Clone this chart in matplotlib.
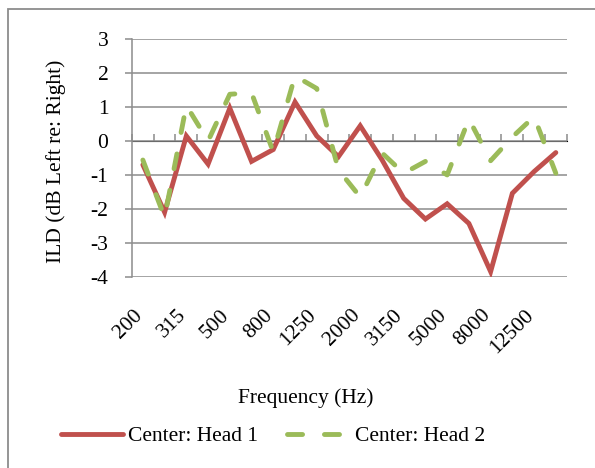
import matplotlib
matplotlib.use('Agg')
import matplotlib.pyplot as plt
from matplotlib.patches import Rectangle

# 1/3-octave band centres (Hz)
freqs = ['200', '250', '315', '400', '500', '630', '800', '1000', '1250', '1600',
         '2000', '2500', '3150', '4000', '5000', '6300', '8000', '10000', '12500', '16000']
head1 = [-0.7, -2.1, 0.15, -0.68, 0.97, -0.6, -0.25, 1.15, 0.15, -0.46,
         0.45, -0.55, -1.69, -2.3, -1.85, -2.43, -3.85, -1.54, -0.9, -0.34]
head2 = [-0.56, -2.25, 1.05, 0.0, 1.38, 1.42, -0.32, 1.92, 1.55, -0.85,
         -1.65, -0.35, -0.95, -0.6, -1.0, 0.65, -0.58, 0.12, 0.72, -0.95]
yticks = [3, 2, 1, 0, -1, -2, -3, -4]

red = '#C0504D'
green = '#9BBB59'
grid_col = '#8C8C8C'

plt.rcParams['font.family'] = ['Liberation Serif', 'DejaVu Serif']
plt.rcParams['font.size'] = 15.5
plt.rcParams['axes.unicode_minus'] = False

fig = plt.figure(figsize=(5.95, 4.68), dpi=100)
ax = fig.add_axes([132 / 595, 1 - 276.7 / 468, (566.7 - 132) / 595, (276.7 - 39.3) / 468])

xs = [i + 0.5 for i in range(len(freqs))]
ax.plot(xs, head1, color=red, lw=3.5, solid_capstyle='round', solid_joinstyle='miter',
        label='Center: Head 1', zorder=3)
ax.plot(xs, head2, color=green, lw=3.5, dashes=(3.1, 4.5), dash_capstyle='round',
        label='Center: Head 2', zorder=4)

ax.set_xlim(0, len(freqs))
ax.set_ylim(min(yticks), max(yticks))
ax.set_yticks(yticks)
ax.set_yticklabels([str(v) for v in yticks])
ax.yaxis.grid(True, color=grid_col, lw=1.1)
ax.set_axisbelow(True)

for s in ['top', 'right', 'bottom']:
    ax.spines[s].set_visible(False)
ax.spines['left'].set_color(grid_col)
ax.spines['left'].set_linewidth(1.1)
ax.tick_params(axis='y', length=5, width=1.1, color=grid_col, pad=12)

# category labels at the bottom, every other band
ax.set_xticks(xs[::2])
ax.set_xticklabels(freqs[::2], rotation=45, ha='right', va='baseline', rotation_mode='anchor')
ax.tick_params(axis='x', length=0, pad=28)

# horizontal axis crosses at 0 with ticks between categories
ymin, ymax = ax.get_ylim()
zero_ax = ax.secondary_xaxis((0 - ymin) / (ymax - ymin))
zero_ax.set_xticks(range(len(freqs) + 1))
zero_ax.set_xticklabels([])
zero_ax.tick_params(axis='x', direction='out', length=5, width=1.1, color=grid_col)
zero_ax.spines['bottom'].set_color(grid_col)
zero_ax.spines['bottom'].set_linewidth(1.1)

fig.text(306 / 595, 1 - 398 / 468, 'Frequency (Hz)', ha='center', va='center')
fig.text(56 / 595, 1 - 161.5 / 468, 'ILD (dB Left re: Right)', ha='center', va='center',
         rotation=90)

fig.legend(loc='center', bbox_to_anchor=(273 / 595, 1 - 436 / 468), ncol=2, frameon=False,
           handlelength=2.9, handletextpad=0.25, columnspacing=1.35, borderaxespad=0)

# chart area border (right/bottom edges fall outside the picture)
fig.patches.append(Rectangle((8 / 595, -0.1), 1.2, 1.1 - 9 / 468, transform=fig.transFigure,
                             fill=False, edgecolor=grid_col, lw=1.3))

fig.savefig('out.png', dpi=100)
